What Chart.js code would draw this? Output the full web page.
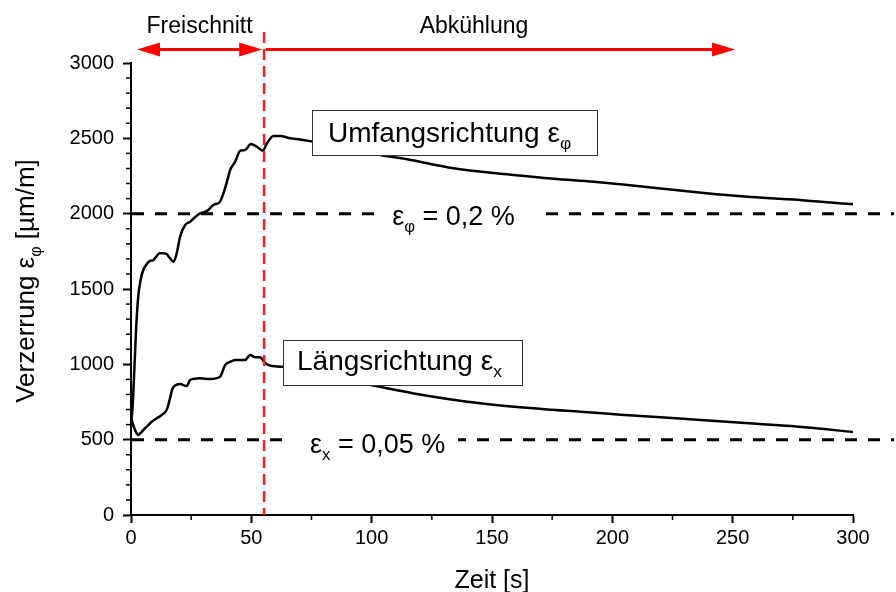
<!DOCTYPE html>
<html><head><meta charset="utf-8">
<script src="https://cdn.jsdelivr.net/npm/chart.js@4/dist/chart.umd.min.js"></script>
<style>html,body{margin:0;padding:0;background:#fff}canvas{display:block}</style>
</head><body>
<canvas id="c" width="896" height="592"></canvas>
<script>
// ---- data ----
const timeUmfang   = [0, 0.6, 1.2, 2.1, 3.0, 4.0, 5.1, 6.5, 7.9, 9.3, 10.5, 11.8, 13.3, 14.8, 16.2, 17.6, 19.0, 20.4, 22.5, 24.6, 26.5, 28.7, 30.5, 32.1, 34.2, 37.0, 38.4, 40.0, 41.2, 43.3, 45.4, 47.4, 49.8, 52.3, 54.8, 56.5, 59.2, 62.0, 66.2, 70.3, 80, 90, 103.6, 114.7, 134, 159, 175.6, 192.4, 203.5, 220, 237, 257.6, 280, 300];
const strainUmfang = [620, 700, 896, 1228, 1449, 1560, 1626, 1665, 1686, 1692, 1715, 1737, 1738, 1732, 1704, 1681, 1737, 1847, 1925, 1947, 1975, 2002, 2010, 2024, 2057, 2080, 2135, 2220, 2290, 2345, 2418, 2422, 2462, 2444, 2418, 2467, 2515, 2515, 2500, 2493, 2465, 2430, 2389, 2361, 2301, 2257, 2232, 2212, 2195, 2167, 2139, 2110, 2088, 2062];
const timeLaengs   = [0, 0.7, 1.8, 3.0, 4.0, 5.1, 6.8, 8.6, 10.7, 12.8, 14.8, 15.5, 16.2, 17.3, 20.4, 23.1, 24.6, 28.7, 32.9, 37.0, 39.1, 41.2, 43.3, 47.4, 49.5, 51.6, 53.7, 55.3, 57.1, 62.7, 70, 80, 90, 99.5, 117.5, 145.2, 173, 186.8, 203.5, 220, 236.8, 260, 280, 300];
const strainLaengs = [650, 608, 560, 531, 545, 564, 590, 619, 642, 664, 697, 730, 774, 841, 869, 856, 896, 907, 903, 918, 995, 1017, 1029, 1029, 1062, 1047, 1047, 1017, 995, 984, 960, 930, 895, 863, 807, 741, 700, 686, 666, 648, 631, 605, 582, 551];
const xTickValues = [0, 50, 100, 150, 200, 250, 300];
const yTickValues = [0, 500, 1000, 1500, 2000, 2500, 3000];
const refValues = [2000, 500];            // εφ = 0,2 %, εx = 0,05 %
const cutEndTime = 55.3;                  // end of "Freischnitt"
const phaseFreischnitt = [2.5, 54.5];
const phaseAbkuehlung = [56.0, 251];

const FONT = "'Liberation Sans', Arial, sans-serif";
Chart.defaults.font.family = FONT;
Chart.defaults.color = '#000';

function drawRich(ctx, parts, x, y, size, align) {
  let w = 0;
  for (const [t, s] of parts) { ctx.font = (s ? size * 0.62 : size) + 'px ' + FONT; w += ctx.measureText(t).width; }
  let cx = align === 'center' ? x - w / 2 : (align === 'right' ? x - w : x);
  ctx.textAlign = 'left';
  ctx.textBaseline = 'alphabetic';
  for (const [t, s] of parts) {
    ctx.font = (s ? size * 0.62 : size) + 'px ' + FONT;
    ctx.fillText(t, cx, s ? y + size * 0.26 : y);
    cx += ctx.measureText(t).width;
  }
  return w;
}
function seg(ctx, x1, y1, x2, y2) { ctx.beginPath(); ctx.moveTo(x1, y1); ctx.lineTo(x2, y2); ctx.stroke(); }
function arrowHead(ctx, tipX, y, dir) {
  ctx.beginPath(); ctx.moveTo(tipX, y); ctx.lineTo(tipX - dir * 23, y - 7); ctx.lineTo(tipX - dir * 23, y + 7); ctx.closePath(); ctx.fill();
}

const overlay = {
  id: 'overlay',
  beforeDatasetsDraw(chart) {
    const { ctx, scales: { x, y }, chartArea: ca } = chart;
    ctx.save();
    ctx.strokeStyle = '#000'; ctx.lineWidth = 1.5;
    for (let v = 100; v < 3000; v += 100) if (v % 500) { const py = y.getPixelForValue(v); seg(ctx, ca.left - 5, py, ca.left, py); }
    for (let v = 25; v < 300; v += 50) { const px = x.getPixelForValue(v); seg(ctx, px, ca.bottom, px, ca.bottom + 5); }
    // reference dashed lines
    ctx.setLineDash([12, 11]); ctx.lineWidth = 3;
    for (const v of refValues) { const py = y.getPixelForValue(v); seg(ctx, ca.left + 1, py, chart.width - 2, py); }
    ctx.setLineDash([]);
    // labels of reference lines, with white gap
    ctx.fillStyle = '#fff';
    let py = y.getPixelForValue(refValues[0]);
    ctx.fillRect(378, py - 10, 157, 20);
    py = y.getPixelForValue(refValues[1]);
    ctx.fillRect(292, py - 10, 166, 20);
    ctx.fillStyle = '#000';
    drawRich(ctx, [['ε', false], ['φ', true], [' = 0,2 %', false]], x.getPixelForValue(134), 225, 27, 'center');
    drawRich(ctx, [['ε', false], ['x', true], [' = 0,05 %', false]], x.getPixelForValue(102.5), 453, 27, 'center');
    ctx.restore();
  },
  afterDatasetsDraw(chart) {
    const { ctx, scales: { x, y }, chartArea: ca } = chart;
    ctx.save();
    // curve label boxes
    ctx.fillStyle = '#fff'; ctx.strokeStyle = '#333'; ctx.lineWidth = 1;
    ctx.fillRect(312, 110, 285, 45); ctx.strokeRect(312.5, 110.5, 285, 45);
    ctx.fillRect(283, 340, 239, 45); ctx.strokeRect(283.5, 340.5, 239, 45);
    ctx.fillStyle = '#000';
    drawRich(ctx, [['Umfangsrichtung ', false], ['ε', false], ['φ', true]], 328, 142, 28, 'left');
    drawRich(ctx, [['Längsrichtung ', false], ['ε', false], ['x', true]], 297, 370, 28, 'left');
    // red dashed vertical line
    const rx = x.getPixelForValue(cutEndTime);
    ctx.strokeStyle = '#ff1a1a'; ctx.lineWidth = 2.5; ctx.setLineDash([11, 6]);
    seg(ctx, rx, 32, rx, ca.bottom);
    ctx.setLineDash([]);
    // arrows
    const ay = y.getPixelForValue(3090);
    ctx.fillStyle = '#ff0000'; ctx.strokeStyle = '#ff0000'; ctx.lineWidth = 3;
    const a1 = x.getPixelForValue(phaseFreischnitt[0]), a2 = x.getPixelForValue(phaseFreischnitt[1]);
    seg(ctx, a1 + 10, ay, a2 - 10, ay); arrowHead(ctx, a1, ay, -1); arrowHead(ctx, a2, ay, 1);
    const b1 = x.getPixelForValue(phaseAbkuehlung[0]), b2 = x.getPixelForValue(phaseAbkuehlung[1]);
    seg(ctx, b1, ay, b2 - 10, ay); arrowHead(ctx, b2, ay, 1);
    ctx.fillStyle = '#000';
    ctx.font = '23px ' + FONT; ctx.textAlign = 'center'; ctx.textBaseline = 'alphabetic';
    ctx.fillText('Freischnitt', (a1 + a2) / 2, 33);
    ctx.fillText('Abkühlung', 474, 33);
    // axis titles
    ctx.font = '25px ' + FONT;
    ctx.fillText('Zeit [s]', (ca.left + ca.right) / 2, 588);
    ctx.translate(34, (ca.top + ca.bottom) / 2 - 8);
    ctx.rotate(-Math.PI / 2);
    drawRich(ctx, [['Verzerrung ', false], ['ε', false], ['φ', true], [' [µm/m]', false]], 0, 0, 26, 'center');
    ctx.restore();
  }
};

new Chart(document.getElementById('c'), {
  type: 'line',
  data: {
    datasets: [
      { label: 'Umfangsrichtung', data: timeUmfang.map((t, i) => ({ x: t, y: strainUmfang[i] })), borderColor: '#000', borderWidth: 2.5, pointRadius: 0, cubicInterpolationMode: 'monotone' },
      { label: 'Längsrichtung', data: timeLaengs.map((t, i) => ({ x: t, y: strainLaengs[i] })), borderColor: '#000', borderWidth: 2.5, pointRadius: 0, cubicInterpolationMode: 'monotone' }
    ]
  },
  options: {
    responsive: false, animation: false,
    layout: { padding: { left: 0, right: 43, top: 63, bottom: 0 } },
    plugins: { legend: { display: false }, tooltip: { enabled: false } },
    scales: {
      x: {
        type: 'linear', min: 0, max: 300,
        afterBuildTicks: s => { s.ticks = xTickValues.map(v => ({ value: v })); },
        afterFit: s => { s.height = 77; },
        ticks: { font: { size: 20 }, color: '#000', padding: 3, maxRotation: 0, callback: v => String(v) },
        grid: { drawOnChartArea: false, drawTicks: true, tickLength: 8, tickColor: '#000', tickWidth: 2 },
        border: { color: '#000', width: 2 }
      },
      y: {
        min: 0, max: 3000,
        afterBuildTicks: s => { s.ticks = yTickValues.map(v => ({ value: v })); },
        afterFit: s => { s.width = 131; },
        ticks: { font: { size: 20 }, color: '#000', padding: 9, callback: v => String(v) },
        grid: { drawOnChartArea: false, drawTicks: true, tickLength: 8, tickColor: '#000', tickWidth: 2 },
        border: { color: '#000', width: 2 }
      }
    }
  },
  plugins: [overlay]
});
</script>
</body></html>
